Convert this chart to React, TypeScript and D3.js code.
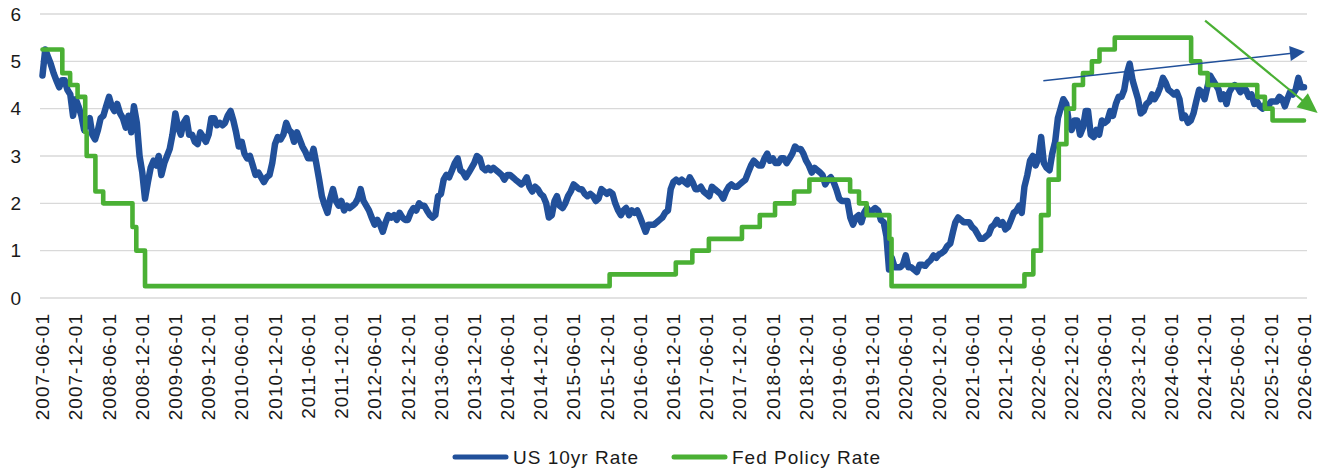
import React from "react";
import * as d3 from "d3";

// ---- data ----

const xTickLabels = [
  "2007-06-01", "2007-12-01", "2008-06-01", "2008-12-01", "2009-06-01", "2009-12-01",
  "2010-06-01", "2010-12-01", "2011-06-01", "2011-12-01", "2012-06-01", "2012-12-01",
  "2013-06-01", "2013-12-01", "2014-06-01", "2014-12-01", "2015-06-01", "2015-12-01",
  "2016-06-01", "2016-12-01", "2017-06-01", "2017-12-01", "2018-06-01", "2018-12-01",
  "2019-06-01", "2019-12-01", "2020-06-01", "2020-12-01", "2021-06-01", "2021-12-01",
  "2022-06-01", "2022-12-01", "2023-06-01", "2023-12-01", "2024-06-01", "2024-12-01",
  "2025-06-01", "2025-12-01", "2026-06-01",
];

const yTicks = [0, 1, 2, 3, 4, 5, 6];

// Fed policy rate (upper bound), value holds from each date until the next one
const fedDates = [
  "2007-06-01", "2007-09-18", "2007-10-31", "2007-12-11", "2008-01-22", "2008-01-30",
  "2008-03-18", "2008-04-30", "2008-10-08", "2008-10-29", "2008-12-16", "2015-12-16",
  "2016-12-14", "2017-03-15", "2017-06-14", "2017-12-13", "2018-03-21", "2018-06-13",
  "2018-09-26", "2018-12-19", "2019-07-31", "2019-09-18", "2019-10-30", "2020-03-03",
  "2020-03-15", "2022-03-16", "2022-05-04", "2022-06-15", "2022-07-27", "2022-09-21",
  "2022-11-02", "2022-12-14", "2023-02-01", "2023-03-22", "2023-05-03", "2023-07-26",
  "2024-09-18", "2024-11-07", "2024-12-18", "2025-09-17", "2025-10-29", "2025-12-10",
  "2026-06-01",
];
const fedRates = [
  5.25, 4.75, 4.5, 4.25, 3.5, 3.0,
  2.25, 2.0, 1.5, 1.0, 0.25, 0.5,
  0.75, 1.0, 1.25, 1.5, 1.75, 2.0,
  2.25, 2.5, 2.25, 2.0, 1.75, 1.25,
  0.25, 0.5, 1.0, 1.75, 2.5, 3.25,
  4.0, 4.5, 4.75, 5.0, 5.25, 5.5,
  5.0, 4.75, 4.5, 4.25, 4.0, 3.75,
  3.75,
];

// US 10yr yield, two readings a month (1st, 16th). First row starts June 2007.
const us10yStartYear = 2007;
const us10yRows: number[][] = [
  /* 2007 */ [4.7, 5.25, 5.1, 4.95, 4.75, 4.6, 4.45, 4.6, 4.6, 4.4, 4.3, 3.85, 4.2, 4.05],
  /* 2008 */ [3.85, 3.55, 3.7, 3.8, 3.45, 3.35, 3.55, 3.8, 3.85, 4.05, 4.25, 4.05, 3.95, 4.1, 3.9, 3.8, 3.6, 3.85, 3.5, 4.05, 3.7, 3.0, 2.65, 2.1],
  /* 2009 */ [2.45, 2.75, 2.9, 2.8, 3.0, 2.6, 2.85, 3.0, 3.15, 3.45, 3.9, 3.6, 3.45, 3.7, 3.8, 3.45, 3.45, 3.3, 3.25, 3.5, 3.4, 3.3, 3.45, 3.8],
  /* 2010 */ [3.8, 3.65, 3.7, 3.65, 3.7, 3.85, 3.95, 3.75, 3.5, 3.2, 3.3, 3.05, 2.95, 3.0, 2.8, 2.6, 2.65, 2.55, 2.45, 2.55, 2.6, 2.85, 3.25, 3.4],
  /* 2011 */ [3.35, 3.45, 3.7, 3.55, 3.5, 3.3, 3.5, 3.35, 3.2, 3.1, 2.95, 2.95, 3.15, 2.85, 2.5, 2.15, 1.95, 1.8, 2.1, 2.3, 2.05, 1.95, 2.05, 1.85],
  /* 2012 */ [1.95, 1.9, 1.95, 2.0, 2.1, 2.3, 2.05, 1.95, 1.85, 1.7, 1.55, 1.65, 1.55, 1.4, 1.6, 1.75, 1.7, 1.75, 1.65, 1.8, 1.7, 1.65, 1.65, 1.8],
  /* 2013 */ [1.9, 1.85, 2.0, 1.95, 1.95, 1.85, 1.75, 1.7, 1.75, 2.15, 2.2, 2.5, 2.6, 2.55, 2.7, 2.85, 2.95, 2.7, 2.65, 2.55, 2.65, 2.75, 2.85, 3.0],
  /* 2014 */ [2.95, 2.75, 2.7, 2.75, 2.7, 2.75, 2.7, 2.65, 2.6, 2.5, 2.6, 2.6, 2.55, 2.5, 2.45, 2.4, 2.45, 2.55, 2.35, 2.25, 2.35, 2.3, 2.2, 2.15],
  /* 2015 */ [2.0, 1.7, 1.75, 2.05, 2.15, 1.95, 1.9, 2.0, 2.15, 2.25, 2.4, 2.35, 2.3, 2.3, 2.2, 2.15, 2.2, 2.15, 2.05, 2.1, 2.3, 2.25, 2.2, 2.25],
  /* 2016 */ [2.2, 2.0, 1.85, 1.75, 1.85, 1.9, 1.75, 1.85, 1.8, 1.85, 1.7, 1.55, 1.4, 1.55, 1.55, 1.55, 1.6, 1.65, 1.7, 1.8, 1.85, 2.3, 2.45, 2.5],
  /* 2017 */ [2.45, 2.5, 2.45, 2.4, 2.55, 2.45, 2.3, 2.3, 2.35, 2.25, 2.2, 2.15, 2.35, 2.3, 2.25, 2.2, 2.1, 2.25, 2.35, 2.4, 2.35, 2.35, 2.4, 2.45],
  /* 2018 */ [2.5, 2.65, 2.8, 2.9, 2.85, 2.8, 2.8, 2.95, 3.05, 2.9, 2.95, 2.85, 2.85, 2.95, 2.95, 2.85, 2.95, 3.05, 3.2, 3.15, 3.15, 3.05, 2.9, 2.8],
  /* 2019 */ [2.65, 2.75, 2.7, 2.65, 2.6, 2.4, 2.5, 2.55, 2.45, 2.3, 2.1, 2.05, 2.05, 2.05, 1.7, 1.55, 1.7, 1.75, 1.6, 1.8, 1.9, 1.8, 1.85, 1.9],
  /* 2020 */ [1.85, 1.65, 1.6, 1.3, 0.6, 0.85, 0.65, 0.65, 0.65, 0.7, 0.9, 0.65, 0.65, 0.6, 0.55, 0.7, 0.7, 0.68, 0.75, 0.8, 0.9, 0.85, 0.92, 0.95],
  /* 2021 */ [1.0, 1.1, 1.15, 1.4, 1.6, 1.7, 1.65, 1.6, 1.6, 1.6, 1.5, 1.45, 1.35, 1.25, 1.25, 1.3, 1.35, 1.5, 1.55, 1.65, 1.55, 1.6, 1.45, 1.5],
  /* 2022 */ [1.65, 1.8, 1.85, 1.95, 1.8, 2.35, 2.6, 2.9, 3.0, 2.8, 2.95, 3.4, 2.85, 2.75, 2.7, 3.05, 3.3, 3.8, 4.0, 4.2, 4.1, 3.7, 3.55, 3.75],
  /* 2023 */ [3.75, 3.45, 3.6, 3.95, 3.95, 3.45, 3.4, 3.55, 3.45, 3.75, 3.7, 3.75, 3.95, 3.85, 4.1, 4.25, 4.25, 4.4, 4.75, 4.95, 4.6, 4.4, 4.2, 3.9],
  /* 2024 */ [3.95, 4.1, 4.15, 4.3, 4.2, 4.3, 4.45, 4.65, 4.55, 4.4, 4.35, 4.3, 4.35, 4.2, 3.8, 3.85, 3.7, 3.75, 3.9, 4.15, 4.4, 4.35, 4.2, 4.45],
  /* 2025 */ [4.7, 4.6, 4.5, 4.4, 4.2, 4.3, 4.1, 4.35, 4.45, 4.5, 4.45, 4.35, 4.4, 4.4, 4.25, 4.3, 4.1, 4.15, 4.05, 4.0, 4.1, 4.05, 4.15, 4.15],
  /* 2026 */ [4.15, 4.25, 4.2, 4.05, 4.2, 4.35, 4.3, 4.4, 4.65, 4.45, 4.45],
];

const legendLabels = ["US 10yr Rate", "Fed Policy Rate"];

// trend arrows drawn over the chart, in (date, rate) terms
const arrowStarts: [string, number][] = [["2022-06-28", 4.59], ["2024-12-04", 5.86]];
const arrowEnds: [string, number][] = [["2026-06-06", 5.2], ["2026-08-15", 3.91]];

// ---- drawing ----

const WIDTH = 1320;
const HEIGHT = 469;
const BLUE = "#21509A";
const GREEN = "#4AB034";
const FONT = "'Liberation Sans', Arial, sans-serif";

const parse = d3.utcParse("%Y-%m-%d");

type Pt = [Date, number];

export default function App() {
  const x = d3
    .scaleUtc()
    .domain([parse("2007-06-01")!, parse("2026-06-01")!])
    .range([42.5, 1304]);
  const y = d3.scaleLinear().domain([0, 6]).range([298, 14]);

  const us10y: Pt[] = [];
  us10yRows.forEach((row, r) => {
    const startMonth = r === 0 ? 5 : 0;
    row.forEach((v, j) => {
      const m = startMonth + Math.floor(j / 2);
      us10y.push([new Date(Date.UTC(us10yStartYear + r, m, j % 2 ? 16 : 1)), v]);
    });
  });

  const fed: Pt[] = fedDates.map((d, i) => [parse(d)!, fedRates[i]]);

  const line = d3
    .line<Pt>()
    .x((d) => x(d[0]))
    .y((d) => y(d[1]));
  const us10yPath = line(us10y);
  const fedPath = d3
    .line<Pt>()
    .x((d) => x(d[0]))
    .y((d) => y(d[1]))
    .curve(d3.curveStepAfter)(fed);

  const arrowSpecs = [
    { color: BLUE, width: 1.4, len: 15, half: 7.5 },
    { color: GREEN, width: 2.2, len: 20, half: 9 },
  ];

  const arrows = arrowStarts.map((s, i) => {
    const x1 = x(parse(s[0])!);
    const y1 = y(s[1]);
    const x2 = x(parse(arrowEnds[i][0])!);
    const y2 = y(arrowEnds[i][1]);
    const spec = arrowSpecs[i];
    const dx = x2 - x1;
    const dy = y2 - y1;
    const L = Math.hypot(dx, dy);
    const ux = dx / L;
    const uy = dy / L;
    const bx = x2 - ux * spec.len;
    const by = y2 - uy * spec.len;
    const head = [
      [x2, y2],
      [bx - uy * spec.half, by + ux * spec.half],
      [bx + uy * spec.half, by - ux * spec.half],
    ]
      .map((p) => p.join(","))
      .join(" ");
    return { x1, y1, bx: bx + ux * 2, by: by + uy * 2, head, spec };
  });

  return (
    <div style={{ position: "absolute", left: 0, top: 0, background: "#fff" }}>
      <svg width={WIDTH} height={HEIGHT} style={{ display: "block" }} fontFamily={FONT}>
        <rect width={WIDTH} height={HEIGHT} fill="#fff" />

        {/* gridlines + y labels */}
        {yTicks.map((t) => (
          <g key={t}>
            <line x1={40} x2={1307} y1={y(t)} y2={y(t)} stroke="#D9D9D9" strokeWidth={1.3} />
            <text x={21} y={y(t)} dy="0.35em" textAnchor="end" fontSize={19} fill="#1a1a1a">
              {t}
            </text>
          </g>
        ))}

        {/* x labels */}
        {xTickLabels.map((lbl) => (
          <text
            key={lbl}
            transform={`translate(${x(parse(lbl)!)},313) rotate(-90)`}
            dy="0.35em"
            textAnchor="end"
            fontSize={19}
            letterSpacing={1}
            fill="#1a1a1a"
          >
            {lbl}
          </text>
        ))}

        {/* series */}
        <path
          d={us10yPath ?? ""}
          fill="none"
          stroke={BLUE}
          strokeWidth={6.5}
          strokeLinejoin="round"
          strokeLinecap="round"
        />
        <path
          d={fedPath ?? ""}
          fill="none"
          stroke={GREEN}
          strokeWidth={4.6}
          strokeLinejoin="round"
          strokeLinecap="round"
        />

        {/* trend arrows */}
        {arrows.map((a, i) => (
          <g key={i}>
            <line
              x1={a.x1}
              y1={a.y1}
              x2={a.bx}
              y2={a.by}
              stroke={a.spec.color}
              strokeWidth={a.spec.width}
            />
            <polygon points={a.head} fill={a.spec.color} />
          </g>
        ))}

        {/* legend */}
        <g>
          <line x1={455} x2={506} y1={457} y2={457} stroke={BLUE} strokeWidth={5} strokeLinecap="round" />
          <text x={513} y={457} dy="0.35em" fontSize={19} letterSpacing={1} fill="#1a1a1a">
            {legendLabels[0]}
          </text>
          <line x1={674} x2={725} y1={457} y2={457} stroke={GREEN} strokeWidth={5} strokeLinecap="round" />
          <text x={732} y={457} dy="0.35em" fontSize={19} letterSpacing={1} fill="#1a1a1a">
            {legendLabels[1]}
          </text>
        </g>
      </svg>
    </div>
  );
}
